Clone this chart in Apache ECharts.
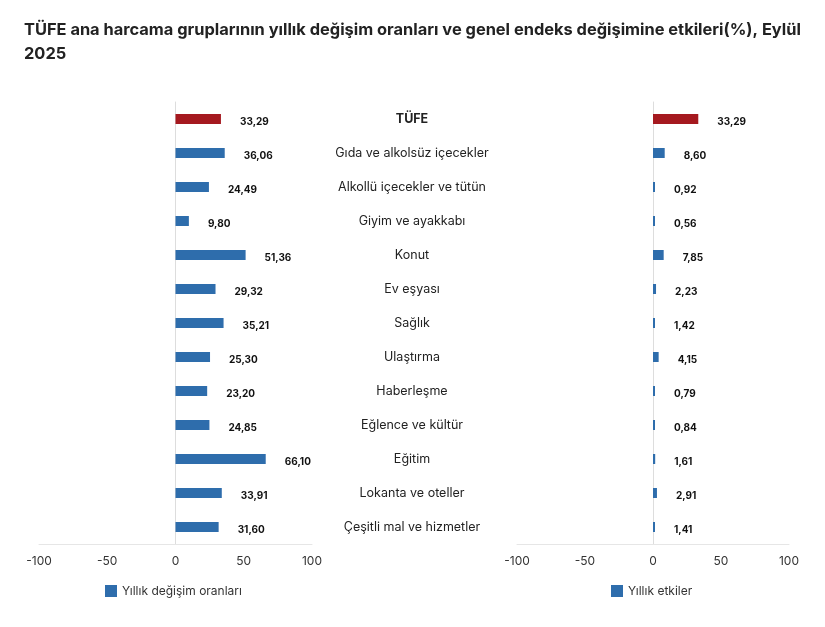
<!DOCTYPE html>
<html>
<head>
<meta charset="utf-8">
<script src="https://cdn.jsdelivr.net/npm/echarts@6/dist/echarts.min.js"></script>
<style>
  html, body { margin: 0; padding: 0; background: #fff; }
  #main { width: 825px; height: 627px; }
</style>
</head>
<body>
<div id="main"></div>
<script>
// kategoriler ve değerler
const categories = ['TÜFE', 'Gıda ve alkolsüz içecekler', 'Alkollü içecekler ve tütün', 'Giyim ve ayakkabı',
  'Konut', 'Ev eşyası', 'Sağlık', 'Ulaştırma', 'Haberleşme', 'Eğlence ve kültür', 'Eğitim',
  'Lokanta ve oteller', 'Çeşitli mal ve hizmetler'];
const yillikDegisim = [33.29, 36.06, 24.49, 9.80, 51.36, 29.32, 35.21, 25.30, 23.20, 24.85, 66.10, 33.91, 31.60];
const yillikEtki = [33.29, 8.60, 0.92, 0.56, 7.85, 2.23, 1.42, 4.15, 0.79, 0.84, 1.61, 2.91, 1.41];
const xTicks = [-100, -50, 0, 50, 100];

const FONT = 'Inter, "Noto Sans", sans-serif';
const BLUE = '#2e6dac';
const RED = '#a5191f';

const chart = echarts.init(document.getElementById('main'));

const fmt = v => v.toFixed(2).replace('.', ',');
const barData = arr => arr.map((v, i) => i === 0 ? { value: v, itemStyle: { color: RED } } : v);

const xAxisCfg = idx => ({
  gridIndex: idx,
  type: 'value',
  min: xTicks[0],
  max: xTicks[xTicks.length - 1],
  interval: 50,
  splitLine: { show: false },
  axisTick: { show: false },
  axisLine: { show: true, onZero: false, lineStyle: { color: '#e6e6e6' } },
  axisLabel: { color: '#333', fontSize: 12, fontFamily: FONT, margin: 11 }
});

const yAxisLine = idx => ({
  gridIndex: idx,
  type: 'category',
  data: categories,
  inverse: true,
  axisLine: { show: true, onZero: true, lineStyle: { color: '#dddddd' } },
  axisTick: { show: false },
  axisLabel: { show: false }
});

const barSeries = (name, arr, idx) => ({
  name: name,
  type: 'bar',
  xAxisIndex: idx,
  yAxisIndex: idx === 0 ? 0 : 2,
  data: barData(arr),
  barWidth: 10,
  barMinHeight: 2,
  itemStyle: { color: BLUE },
  label: {
    show: true,
    position: 'right',
    distance: 19,
    offset: [0, 3],
    color: '#111',
    fontSize: 10,
    fontWeight: 'bold',
    fontFamily: FONT,
    formatter: p => fmt(p.value)
  }
});

const option = {
  animation: false,
  title: {
    text: 'TÜFE ana harcama gruplarının yıllık değişim oranları ve genel endeks değişimine etkileri(%), Eylül\n2025',
    left: 19,
    top: 13,
    textStyle: { fontFamily: FONT, fontSize: 16.4, fontWeight: 'bold', color: '#222', lineHeight: 24 }
  },
  legend: [
    {
      data: ['Yıllık değişim oranları'],
      left: 100, top: 580,
      icon: 'rect', itemWidth: 12, itemHeight: 12, itemGap: 6,
      textStyle: { fontFamily: FONT, fontSize: 12, color: '#333' }
    },
    {
      data: ['Yıllık etkiler'],
      left: 606, top: 580,
      icon: 'rect', itemWidth: 12, itemHeight: 12, itemGap: 6,
      textStyle: { fontFamily: FONT, fontSize: 12, color: '#333' }
    }
  ],
  grid: [
    { left: 39, width: 273, top: 102, height: 442 },
    { left: 517, width: 272, top: 102, height: 442 }
  ],
  xAxis: [xAxisCfg(0), xAxisCfg(1)],
  yAxis: [
    yAxisLine(0),
    {
      // orta sütundaki kategori etiketleri
      gridIndex: 0,
      type: 'category',
      data: categories,
      inverse: true,
      position: 'right',
      axisLine: { show: false },
      axisTick: { show: false },
      axisLabel: {
        align: 'center',
        margin: 100,
        fontFamily: FONT,
        fontSize: 12.5,
        color: '#222',
        formatter: v => v === 'TÜFE' ? '{b|' + v + '}' : v,
        rich: { b: { fontWeight: 'bold', fontSize: 12.5, fontFamily: FONT, color: '#222' } }
      }
    },
    yAxisLine(1)
  ],
  series: [
    barSeries('Yıllık değişim oranları', yillikDegisim, 0),
    barSeries('Yıllık etkiler', yillikEtki, 1)
  ]
};

chart.setOption(option);
</script>
</body>
</html>
